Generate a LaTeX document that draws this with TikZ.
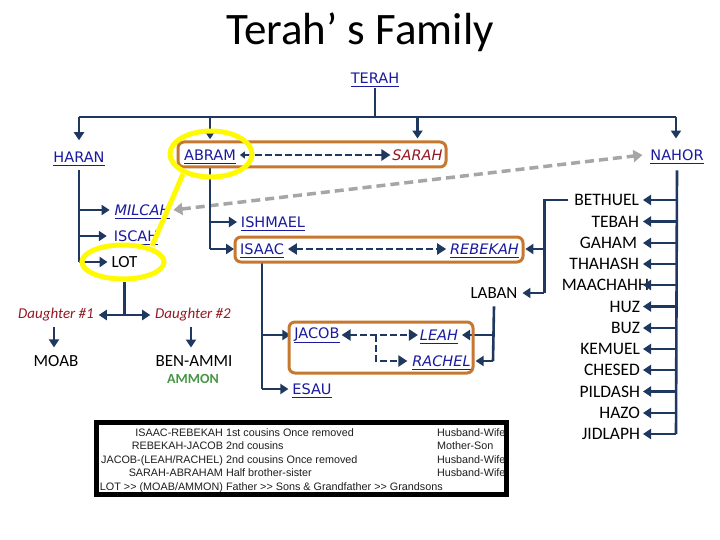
\documentclass[tikz,border=0pt]{standalone}
\usepackage{fontspec}
\setmainfont{Carlito}
\newfontfamily\dv{DejaVu Sans}
\newfontfamily\lib{Liberation Sans}
\newcommand{\myul}[1]{\setbox0=\hbox{#1}\leavevmode\rlap{\copy0}\smash{\rule[-4.1pt]{\wd0}{1.3pt}}}
\usetikzlibrary{arrows.meta,calc}
\definecolor{navy}{RGB}{31,56,96}
\definecolor{lnk}{RGB}{26,26,160}
\definecolor{dred}{RGB}{150,25,35}
\definecolor{obox}{RGB}{198,120,48}
\definecolor{gline}{RGB}{166,166,166}
\definecolor{ylw}{RGB}{255,250,0}
\definecolor{grn}{RGB}{70,150,70}
\definecolor{tblk}{RGB}{30,30,30}
\begin{document}
\begin{tikzpicture}[x=1pt,y=-1pt,
  lab/.style={inner sep=0pt,outer sep=0pt},
  bl/.style={lab,font=\dv\fontsize{14.5}{15}\selectfont,text=lnk},
  bli/.style={lab,font=\dv\fontsize{14.5}{15}\selectfont\itshape,text=lnk},
  rd/.style={lab,font=\dv\fontsize{14.5}{15}\selectfont\itshape,text=dred},
  blk/.style={lab,font=\fontsize{17}{18}\selectfont},
  nm/.style={lab,font=\fontsize{17.5}{18}\selectfont,anchor=east},
  dtr/.style={lab,font=\fontsize{15}{16}\selectfont\itshape,text=dred},
  grnlbl/.style={lab,font=\fontsize{14}{15}\selectfont\bfseries,text=grn},
  tbr/.style={lab,font=\lib\fontsize{10.8}{12}\selectfont,text=tblk,anchor=base east},
  tbl/.style={lab,font=\lib\fontsize{10.8}{12}\selectfont,text=tblk,anchor=base west},
  ln/.style={draw=navy,line width=2.6pt},
  arr/.style={ln,-{Triangle[length=8pt,width=10pt]}},
  dsh/.style={draw=navy,line width=2.4pt,dash pattern=on 7pt off 3pt},
  bigtip/.style={{Triangle[length=9pt,width=11pt]}-{Triangle[length=9pt,width=11pt]}},
  ob/.style={draw=obox,line width=3pt,rounded corners=6pt},
  yl/.style={draw=ylw,line width=5pt},
  gdsh/.style={draw=gline,line width=3.5pt,dash pattern=on 9pt off 5pt}
]
\useasboundingbox (0,0) rectangle (720,540);
\fill[white] (0,0) rectangle (720,540);

% title
\node[font=\fontsize{45}{50}\selectfont,anchor=base] (title) at (360,45) {Terah’ s Family};

% main labels
\node[bl] (TERAH) at (375,78) {\myul{TERAH}};
\node[bl] (HARAN) at (79,157) {\myul{HARAN}};
\node[bl] (ABRAM) at (210,155) {\myul{ABRAM}};
\node[rd] (SARAH) at (417.5,155) {SARAH};
\node[bl] (NAHOR) at (677,155) {\myul{NAHOR}};
\node[bli] (MILCAH) at (142.5,210) {\myul{MILCAH}};
\node[bl] (ISCAH) at (136,236) {\myul{ISCAH}};
\node[blk] (LOT) at (124.5,262) {LOT};
\node[bl] (ISHMAEL) at (273,222) {\myul{ISHMAEL}};
\node[bl] (ISAAC) at (262,249) {\myul{ISAAC}};
\node[bli] (REBEKAH) at (484.5,249) {\myul{REBEKAH}};
\node[blk] (LABAN) at (494,293) {LABAN};
\node[dtr] (D1) at (56,315) {Daughter \#1};
\node[dtr] (D2) at (193,315) {Daughter \#2};
\node[blk] (MOAB) at (56,361) {MOAB};
\node[blk] (BENAMMI) at (194,361) {BEN-AMMI};
\node[grnlbl] (AMMON) at (193,379) {AMMON};
\node[bl] (JACOB) at (317,335) {\myul{JACOB}};
\node[bli] (LEAH) at (439,335) {\myul{LEAH}};
\node[bli] (RACHEL) at (441.5,361) {\myul{RACHEL}};
\node[bl] (ESAU) at (312,389) {\myul{ESAU}};

% Nahor's sons
\foreach \n/\x/\y in {BETHUEL/639/200,TEBAH/639/221.5,GAHAM/637/243,THAHASH/639/264,MAACHAHH/649/285,HUZ/640/306.5,BUZ/640/328,KEMUEL/640/349,CHESED/640/370,PILDASH/640/391.5,HAZO/640/413,JIDLAPH/640/434}
  \node[nm] (\n) at (\x,\y) {\n};

% gray dashed cousin link
\draw[gdsh,{Triangle[length=9pt,width=12pt]}-{Triangle[length=9pt,width=12pt]}] ([xshift=3pt]MILCAH.east) -- ([xshift=-8pt]NAHOR.west);

% Terah bus
\coordinate (bus) at (0,117);
\draw[ln] ([yshift=-5pt]TERAH.south) -- (TERAH.south |- bus);
\draw[ln] (HARAN.south |- bus) -- (676,117);
\draw[arr] (HARAN.south |- bus) -- ([yshift=11.5pt]HARAN.north);
\draw[arr] (ABRAM.south |- bus) -- ([yshift=10.5pt]ABRAM.north);
\draw[arr] (SARAH.south |- bus) -- ([yshift=11pt]SARAH.north);
\draw[arr] (676,117) -- ([xshift=-1pt,yshift=11pt]NAHOR.north);

% Haran's children
\draw[ln] ([yshift=-8pt]HARAN.south) -- (HARAN.south |- LOT);
\draw[arr] (HARAN.south |- MILCAH) -- ([xshift=-5pt]MILCAH.west);
\draw[arr] (HARAN.south |- ISCAH) -- ([xshift=-7pt]ISCAH.west);
\draw[arr] (HARAN.south |- LOT) -- ([xshift=-4pt]LOT.west);

% Lot's daughters
\draw[ln] ([yshift=-14pt]LOT.south) -- (LOT.south |- D1);
\draw[arr] (LOT.south |- D1) -- ([xshift=5pt]D1.east);
\draw[arr] (LOT.south |- D2) -- ([xshift=-5pt]D2.west);
\draw[arr] ([xshift=-2pt,yshift=-6pt]D1.south) -- ([xshift=-2pt,yshift=8pt]MOAB.north);
\draw[arr] ([xshift=-2pt,yshift=-6pt]D2.south) -- ([xshift=-3pt,yshift=8pt]BENAMMI.north);

% Abram's children
\draw[ln] ([yshift=-7pt]ABRAM.south) -- (ABRAM.south |- ISAAC);
\draw[arr] (ABRAM.south |- ISHMAEL) -- ([xshift=-4pt]ISHMAEL.west);
\draw[arr] (ABRAM.south |- ISAAC) -- ([xshift=-6pt]ISAAC.west);

% Isaac's children
\draw[ln] ([yshift=-8pt]ISAAC.south) -- (ISAAC.south |- ESAU);
\draw[arr] (ISAAC.south |- JACOB) -- ([xshift=-4pt]JACOB.west);
\draw[arr] (ISAAC.south |- ESAU) -- ([xshift=-4pt]ESAU.west);

% Nahor's line
\coordinate (ntip) at ([xshift=4pt]BETHUEL.east);
\draw[ln] ([yshift=-10pt]NAHOR.south) -- ([xshift=-1pt]NAHOR.south |- JIDLAPH);
\foreach \n in {BETHUEL,TEBAH,GAHAM,THAHASH,MAACHAHH,HUZ,BUZ,KEMUEL,CHESED,PILDASH,HAZO,JIDLAPH}
  \draw[arr] ([xshift=-1pt]NAHOR.south |- \n) -- (ntip |- \n);

% Bethuel's children
\coordinate (rbus) at ([xshift=-30pt]BETHUEL.west);
\draw[ln] ([xshift=-6pt]BETHUEL.west) -- (rbus) -- (rbus |- LABAN);
\draw[arr] (rbus |- REBEKAH) -- ([xshift=6.5pt]REBEKAH.east);
\draw[arr] (rbus |- LABAN) -- ([xshift=5pt]LABAN.east);

% Laban's daughters
\draw[ln] ([yshift=-8pt]LABAN.south) -- ([xshift=-1pt]LABAN.south |- RACHEL);
\draw[arr] ([xshift=-1pt]LABAN.south |- LEAH) -- ([xshift=4pt]LEAH.east);
\draw[arr] ([xshift=-1pt]LABAN.south |- RACHEL) -- ([xshift=5pt]RACHEL.east);

% marriage boxes
\draw[ob] (178,142) rectangle (446,167);
\draw[ob] (235,237) rectangle (523,262);
\draw[ob] (289,322) rectangle (473,373);

% marriage links
\draw[dsh,{Triangle[length=5pt,width=7pt]}-{Triangle[length=9pt,width=11pt]}] ([xshift=4pt]ABRAM.east) -- ([xshift=-2pt]SARAH.west);
\draw[dsh,bigtip] ([xshift=4pt]ISAAC.east) -- ([xshift=-4pt]REBEKAH.west);
\draw[dsh,bigtip] ([xshift=2pt]JACOB.east) -- ([xshift=-2pt]LEAH.west);
\coordinate (js) at ($(JACOB.east)!0.45!(LEAH.west)$);
\draw[dsh,-{Triangle[length=9pt,width=11pt]}] (js) |- ([xshift=-5pt]RACHEL.west);

% relationship table
\draw[line width=5pt] (96.5,422.5) rectangle (506.5,494.5);
\node[tbr] (r1a) at (223,436) {ISAAC-REBEKAH};
\node[tbl] (r1b) at (226,436) {1st cousins Once removed};
\node[tbl] (r1c) at (437,436) {Husband-Wife};
\node[tbr] (r2a) at (223,449.5) {REBEKAH-JACOB};
\node[tbl] (r2b) at (226,449.5) {2nd cousins};
\node[tbl] (r2c) at (437,449.5) {Mother-Son};
\node[tbr] (r3a) at (223,463) {JACOB-(LEAH/RACHEL)};
\node[tbl] (r3b) at (226,463) {2nd cousins Once removed};
\node[tbl] (r3c) at (437,463) {Husband-Wife};
\node[tbr] (r4a) at (223,476.5) {SARAH-ABRAHAM};
\node[tbl] (r4b) at (226,476.5) {Half brother-sister};
\node[tbl] (r4c) at (437,476.5) {Husband-Wife};
\node[tbr] (r5a) at (223,490) {LOT >{}> (MOAB/AMMON)};
\node[tbl] (r5b) at (226,490) {Father >{}> Sons \& Grandfather >{}> Grandsons};

% yellow highlights
\draw[yl] (211,154) ellipse (41pt and 23pt);
\draw[yl] (123,262) ellipse (41pt and 17pt);
\draw[yl] (183,174) -- (152,246);
\end{tikzpicture}
\end{document}
